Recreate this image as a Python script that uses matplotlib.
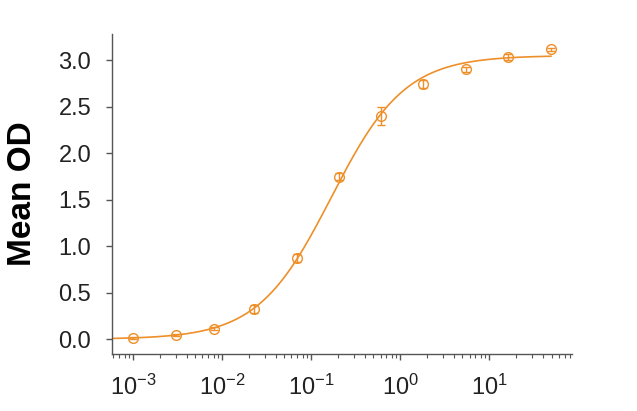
import numpy as np
import matplotlib
matplotlib.use('Agg')
import matplotlib.pyplot as plt
from matplotlib.ticker import LogLocator, NullFormatter, MultipleLocator

plt.rcParams['font.family'] = ['Liberation Sans', 'DejaVu Sans']
plt.rcParams['mathtext.fontset'] = 'custom'
plt.rcParams['mathtext.rm'] = 'Liberation Sans'

# concentration (log axis) and mean OD with error
conc = [0.001, 0.003, 0.008, 0.0226, 0.070, 0.206, 0.60, 1.81, 5.47, 16.1, 49.3]
mean_od = [0.017, 0.043, 0.114, 0.325, 0.875, 1.747, 2.40, 2.742, 2.90, 3.035, 3.115]
err_od = [0.01, 0.01, 0.015, 0.04, 0.04, 0.04, 0.095, 0.04, 0.03, 0.03, 0.02]

# 4PL fit parameters (bottom, top, ec50, hill)
fit_bottom = 0.0
fit_top = 3.05
fit_ec50 = 0.168
fit_hill = 1.05

color = '#EE8F2A'

fig = plt.figure(figsize=(6.37, 4.11), dpi=100)
ax = fig.add_axes([0.176, 0.139, 0.722, 0.778])

xs = np.logspace(np.log10(5.8e-4), np.log10(conc[-1]), 400)
ys = fit_bottom + (fit_top - fit_bottom) / (1 + (fit_ec50 / xs) ** fit_hill)
ax.plot(xs, ys, color=color, linewidth=1.2)

ax.errorbar(conc, mean_od, yerr=err_od, fmt='o', mfc='none', mec=color, ecolor=color,
            ms=7, mew=1.0, elinewidth=1.0, capsize=3.2, capthick=1.0)

ax.set_xscale('log')
ax.set_xlim(5.8e-4, 85)
ax.set_ylim(-0.158, 3.28)
ax.yaxis.set_major_locator(MultipleLocator(0.5))
ax.xaxis.set_major_locator(LogLocator(base=10, numticks=20))
ax.xaxis.set_minor_locator(LogLocator(base=10, subs=np.arange(2, 10), numticks=20))
ax.xaxis.set_minor_formatter(NullFormatter())

for side in ['top', 'right']:
    ax.spines[side].set_visible(False)
for side in ['left', 'bottom']:
    ax.spines[side].set_color('#555555')
    ax.spines[side].set_linewidth(1.0)

ax.tick_params(axis='both', which='major', length=4, width=1.0, color='#555555',
               labelsize=17, labelcolor='#222222')
ax.tick_params(axis='x', which='major', pad=11)
ax.tick_params(axis='y', which='major', pad=11)
ax.tick_params(axis='x', which='minor', length=3, width=0.8, color='#555555')

ax.set_ylabel('Mean OD', fontsize=24, fontweight='bold', labelpad=15)

fig.savefig('out.png', dpi=100)
